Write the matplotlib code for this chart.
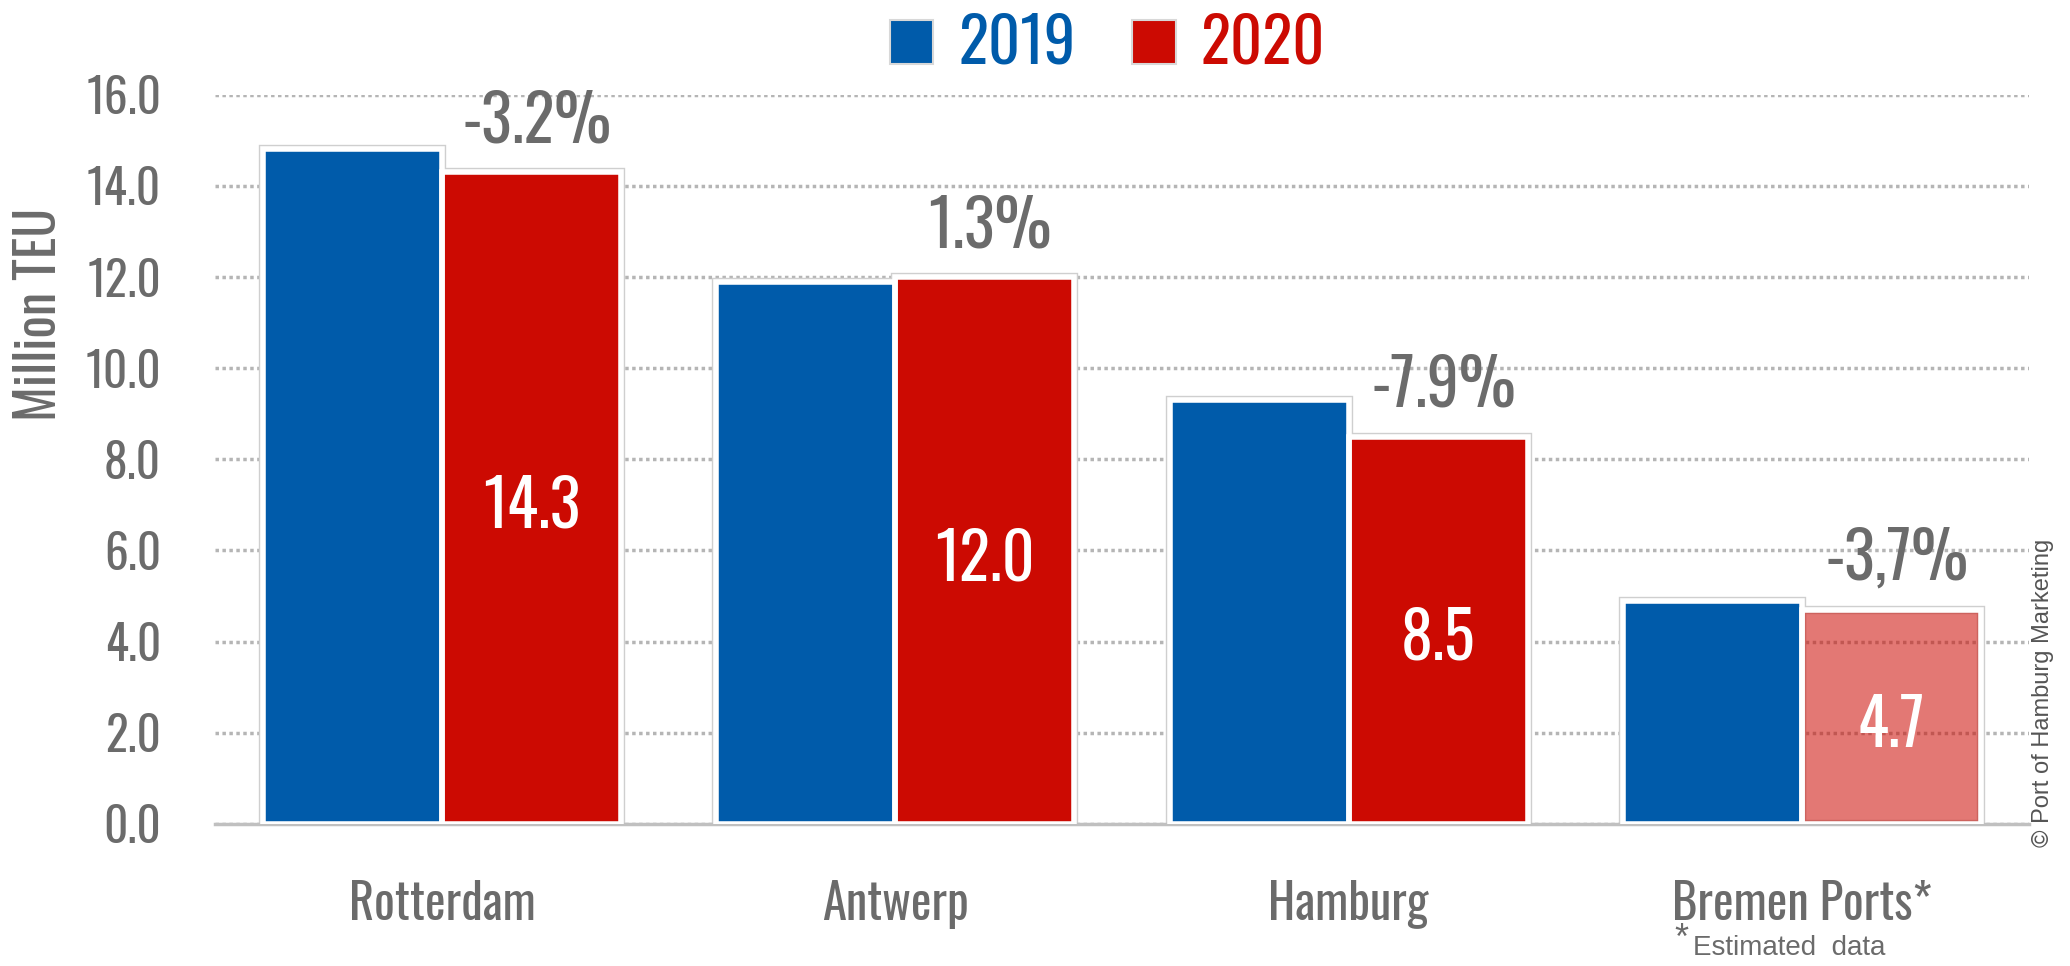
import matplotlib.pyplot as plt
import numpy as np
from matplotlib.patches import Patch

# Data
ports = ['Rotterdam', 'Antwerp', 'Hamburg', 'Bremen Ports*']
teu_2019 = [14.8, 11.9, 9.3, 4.9]
teu_2020 = [14.3, 12.0, 8.5, 4.7]
change_labels = ['-3.2%', '1.3%', '-7.9%', '-3,7%']
value_labels = ['14.3', '12.0', '8.5', '4.7']
estimated = [False, False, False, True]
yticks = [0, 2, 4, 6, 8, 10, 12, 14, 16]

blue = '#005BAA'
red = '#CC0A02'
grey = '#6b6b6b'

cond = dict(family=['Oswald', 'DejaVu Sans'])

fig = plt.figure(figsize=(20.7, 9.66), dpi=100)
ax = fig.add_axes([0.104, 0.147, 0.876, 0.755])

x = np.arange(len(ports))
w = 0.395

ax.set_axisbelow(True)
ax.yaxis.grid(True, color='#b5b5b5', linestyle=(0, (1, 1)), linewidth=2.5)

for xs, vals, col in [(x - w / 2, teu_2019, blue), (x + w / 2, teu_2020, red)]:
    for xi, v, est in zip(xs, vals, estimated):
        a = 0.55 if (est and col == red) else 1.0
        # grey outline then white inner edge
        ax.bar(xi, v, w, color='none', edgecolor='#cfcfcf', linewidth=6, zorder=2)
        ax.bar(xi, v, w, color=col, alpha=a, edgecolor='none', zorder=3)
        ax.bar(xi, v, w, color='none', edgecolor='white', linewidth=4, zorder=4)

for xi, v, lab in zip(x + w / 2, teu_2020, change_labels):
    ax.annotate(lab, (xi, v), xytext=(4, 36), textcoords='offset points',
                ha='center', va='center', fontsize=46, color=grey,
                annotation_clip=False, zorder=5, **cond)

for xi, v, lab in zip(x + w / 2, teu_2020, value_labels):
    ax.annotate(lab, (xi, v / 2), xytext=(0, -7), textcoords='offset points',
                ha='center', va='center', fontsize=46, color='white', zorder=5, **cond)

ax.set_xlim(-0.5, len(ports) - 0.5)
ax.set_ylim(0, 16)
ax.set_yticks(yticks)
ax.set_yticklabels([f'{t:.1f}' for t in yticks], fontsize=34, color=grey, **cond)
ax.set_xticks(x)
ax.set_xticklabels(ports, fontsize=35, color=grey, **cond)
ax.tick_params(axis='both', length=0)
ax.tick_params(axis='y', pad=39)
ax.tick_params(axis='x', pad=40)

for s in ['top', 'right', 'left']:
    ax.spines[s].set_visible(False)
ax.spines['bottom'].set_color('#c0c0c0')
ax.spines['bottom'].set_linewidth(2.5)

fig.text(0.019, 0.675, 'Million TEU', rotation=90, ha='center', va='center',
         fontsize=38, color=grey, **cond)

handles = [Patch(facecolor=blue, edgecolor='#d8d8d8', linewidth=1.5),
           Patch(facecolor=red, edgecolor='#d8d8d8', linewidth=1.5)]
leg = fig.legend(handles, ['2019', '2020'], loc='center', bbox_to_anchor=(0.535, 0.954),
                 ncol=2, frameon=False, handlelength=0.7, handleheight=0.7,
                 handletextpad=0.4, columnspacing=0.9, labelcolor=[blue, red],
                 prop=dict(size=45, family=['Oswald', 'DejaVu Sans']))

fig.text(0.809, 0.027, '*', ha='left', va='center', fontsize=26, color=grey,
         family='Liberation Sans')
fig.text(0.818, 0.019, 'Estimated  data', ha='left', va='center', fontsize=20, color=grey,
         family='Liberation Sans')

fig.text(0.987, 0.283, '\u00a9 Port of Hamburg Marketing', rotation=90, ha='center', va='center',
         fontsize=17, color='#555555', family='Liberation Sans')

fig.savefig('out.png', dpi=100)
